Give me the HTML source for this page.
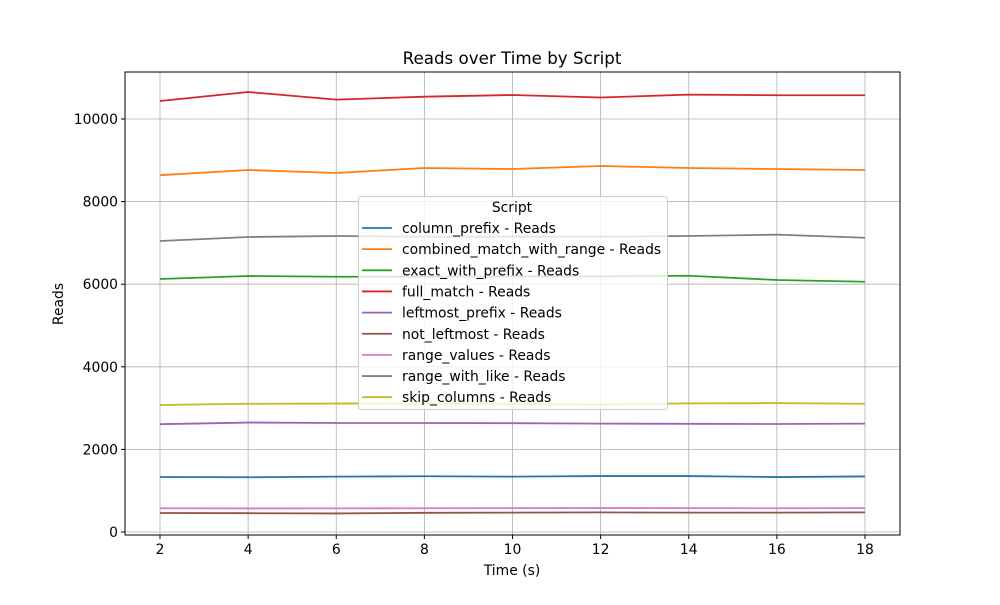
<!DOCTYPE html>
<html><head><meta charset="utf-8"><style>
body{margin:0;background:#fff;}
svg{font-family:"DejaVu Sans","Liberation Sans",sans-serif;}
</style></head><body>
<svg id="chart" width="1000" height="600" xmlns="http://www.w3.org/2000/svg">
<rect width="1000" height="600" fill="#fff"/>
<g id="grid"></g>
<g id="series"></g>
<rect x="125" y="72" width="775" height="463" fill="none" stroke="#000" stroke-width="1"/>
<g id="axes"></g>
<text x="512" y="64" text-anchor="middle" font-size="16.7">Reads over Time by Script</text>
<text x="512" y="575" text-anchor="middle" font-size="13.9">Time (s)</text>
<text x="63" y="304" text-anchor="middle" font-size="13.9" transform="rotate(-90 63 304)">Reads</text>
<g id="legend"></g>
</svg>
<script>
const times=[2,4,6,8,10,12,14,16,18];
const xTicks=[2,4,6,8,10,12,14,16,18];
const yTicks=[0,2000,4000,6000,8000,10000];
const names=["column_prefix","combined_match_with_range","exact_with_prefix","full_match","leftmost_prefix","not_leftmost","range_values","range_with_like","skip_columns"];
const colors=["#1f77b4","#ff7f0e","#2ca02c","#d62728","#9467bd","#8c564b","#e377c2","#7f7f7f","#bcbd22"];
const columnPrefix=[1332,1325,1340,1350,1340,1355,1355,1330,1345];
const combined=[8640,8765,8692,8814,8789,8862,8814,8789,8765];
const exactPrefix=[6126,6199,6180,6180,6190,6190,6205,6102,6060];
const fullMatch=[10436,10654,10470,10540,10581,10520,10590,10575,10575];
const leftmost=[2610,2650,2640,2640,2635,2625,2620,2615,2625];
const notLeftmost=[460,455,450,465,470,475,470,470,475];
const rangeValues=[575,570,572,575,578,580,578,575,578];
const rangeLike=[7046,7143,7167,7150,7150,7150,7167,7200,7125];
const skipCols=[3075,3105,3110,3110,3100,3085,3115,3120,3105];
const seriesData=[columnPrefix,combined,exactPrefix,fullMatch,leftmost,notLeftmost,rangeValues,rangeLike,skipCols];
const NS="http://www.w3.org/2000/svg";
const X=v=>160+(v-2)*(705/16);
const Y=v=>532-v*0.0413;
function mk(t,a,p){const e=document.createElementNS(NS,t);for(const k in a)e.setAttribute(k,a[k]);p.appendChild(e);return e;}
const grid=document.getElementById('grid'),axes=document.getElementById('axes');
xTicks.forEach(t=>{
 const g=mk('line',{x1:X(t),x2:X(t),y1:72,y2:535,stroke:'#b0b0b0','stroke-width':0.8},grid);
 
 
 mk('line',{x1:X(t),x2:X(t),y1:535,y2:539,stroke:'#000'},axes);
 const l=mk('text',{x:X(t),y:554,'text-anchor':'middle','font-size':13.9},axes);l.textContent=t;
 
 
});
yTicks.forEach(t=>{
 const g=mk('line',{x1:125,x2:900,y1:Y(t),y2:Y(t),stroke:'#b0b0b0','stroke-width':0.8},grid);
 
 
 mk('line',{x1:121,x2:125,y1:Y(t),y2:Y(t),stroke:'#000'},axes);
 const l=mk('text',{x:118,y:Y(t)+5,'text-anchor':'end','font-size':13.9},axes);l.textContent=t;
 
 
});
const sg=document.getElementById('series');
seriesData.forEach((d,i)=>{
 const p=mk('polyline',{points:d.map((v,j)=>X(times[j])+','+Y(v)).join(' '),fill:'none',stroke:colors[i],'stroke-width':1.8},sg);
 
 
});
const lg=document.getElementById('legend');
mk('rect',{x:358.5,y:196.5,width:309,height:213,rx:3,fill:'#fff','fill-opacity':0.8,stroke:'#ccc'},lg);
const lt=mk('text',{x:512,y:212,'text-anchor':'middle','font-size':13.9},lg);lt.textContent='Script';


names.forEach((n,i)=>{
 const y=228+i*21.15;
 const g=mk('g',{},lg);
 
 
 mk('line',{x1:362,x2:392,y1:y,y2:y,stroke:colors[i],'stroke-width':1.8},g);
 const t=mk('text',{x:402,y:y+5,'font-size':13.9},g);t.textContent=n+' - Reads';
});
</script>
</body></html>
